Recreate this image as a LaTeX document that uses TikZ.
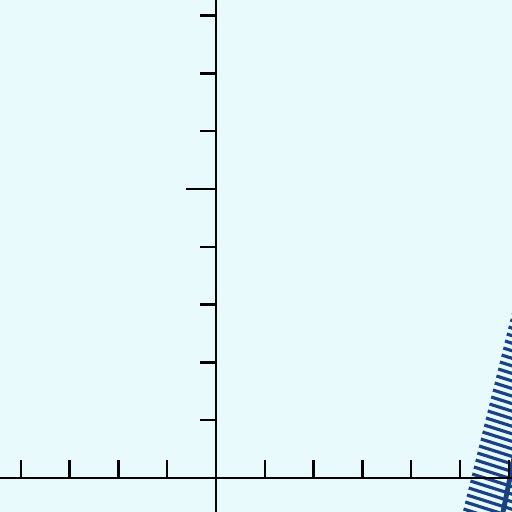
\documentclass[tikz,border=0pt]{standalone}
\usepackage{xcolor}
\usepackage{tikz}

\definecolor{fondo}{RGB}{232,250,252}
\definecolor{azul}{RGB}{24,66,130}

\begin{document}
\begin{tikzpicture}[x=0.02cm,y=0.02cm,
  eje/.style={line width=1.6pt,black},
  marca/.style={line width=1.4pt,black},
  rayado/.style={line width=1.8pt,azul},
  borde/.style={line width=2.8pt,azul}]

  \fill[fondo] (0,0) rectangle (512,512);
  \useasboundingbox (0,0) rectangle (512,512);
  \clip (0,0) rectangle (512,512);

  % region rayada
  \foreach \i in {0,...,31} {
    \pgfmathsetmacro\yy{199-7*\i}
    \pgfmathsetmacro\xx{465+(\yy-9)*47/190}
    \draw[rayado] (\xx,\yy) -- ++(60,-19);
  }
  \coordinate (b1) at (514,54);
  \coordinate (b2) at (501,-10);
  \draw[borde] (b1) -- (b2);

  % ejes
  \coordinate (o) at (216,34);
  \draw[eje] (0,34) -- (512,34);
  \draw[eje] (216,0) -- (216,512);

  \foreach \k in {-4,-3,-2,-1,1,2,3,4,5,6}
    \draw[marca] (o) ++(\k*48.8,0) -- ++(0,18);
  \foreach \k in {1,2,3,4,6,7,8}
    \draw[marca] (o) ++(0,\k*57.8) -- ++(-16,0);
  \draw[marca] (o) ++(0,5*57.8) -- ++(-30,0);
\end{tikzpicture}
\end{document}
